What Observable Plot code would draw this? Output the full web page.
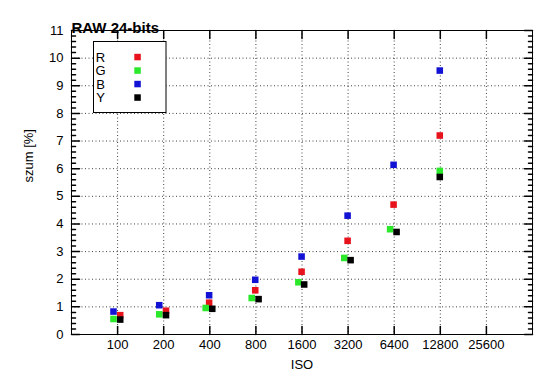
<!DOCTYPE html>
<html><head><meta charset="utf-8">
<script src="https://cdn.jsdelivr.net/npm/d3@7"></script>
<script src="https://cdn.jsdelivr.net/npm/@observablehq/plot@0.6"></script>
<style>body{margin:0;background:#fff;} svg{display:block;}</style>
</head><body><div id="chart"></div>
<script>
const title = "RAW 24-bits";
const xLabel = "ISO";
const yLabel = "szum [%]";
const series = ["R", "G", "B", "Y"];
const colors = ["#e8121c", "#2be82b", "#1212d4", "#000000"];
const isoTicks = [100, 200, 400, 800, 1600, 3200, 6400, 12800, 25600];
const yTicks = [0, 1, 2, 3, 4, 5, 6, 7, 8, 9, 10, 11];

// measured ISO (slightly offset) and noise values per channel
const isoR = [104, 207, 396, 792, 1590, 3176, 6340, 12700];
const valR = [0.70, 0.86, 1.15, 1.60, 2.27, 3.39, 4.70, 7.20];
const isoG = [94, 187, 376, 751, 1515, 3022, 6020, 12700];
const valG = [0.56, 0.73, 0.96, 1.32, 1.89, 2.77, 3.81, 5.92];
const isoB = [94, 187, 396, 792, 1590, 3176, 6340, 12700];
const valB = [0.83, 1.06, 1.42, 1.98, 2.82, 4.30, 6.14, 9.55];
const isoY = [104, 207, 415, 833, 1653, 3322, 6633, 12700];
const valY = [0.54, 0.70, 0.93, 1.28, 1.81, 2.69, 3.71, 5.70];

const isoBySeries = [isoR, isoG, isoB, isoY];
const valBySeries = [valR, valG, valB, valY];
const data = [];
series.forEach((s, k) => {
  isoBySeries[k].forEach((iso, i) => data.push({series: s, iso, value: valBySeries[k][i]}));
});

const minorY = d3.range(0, 55).map(i => i / 5).filter(v => Math.abs(v - Math.round(v)) > 1e-6);
const tickShape = {draw(context, l) { context.moveTo(0, 0); context.lineTo(0, -l); }};
const font = "'Liberation Sans', Arial, Helvetica, sans-serif";
const gridStyle = {stroke: "#000", strokeOpacity: 0.75, strokeDasharray: "1,2.5", strokeWidth: 1};

const chart = Plot.plot({
  width: 550,
  height: 389,
  marginLeft: 71,
  marginRight: 18,
  marginTop: 30,
  marginBottom: 55,
  style: {fontFamily: font, fontSize: "13px", background: "#fff", color: "#000"},
  x: {type: "log", domain: [50, 51200], axis: null},
  y: {domain: [0, 11], axis: null},
  color: {domain: series, range: colors},
  marks: [
    Plot.ruleX(isoTicks, {x: d => d, ...gridStyle}),
    Plot.ruleY(yTicks.filter(v => v > 0 && v < 11), {y: d => d, ...gridStyle}),
    // ticks
    Plot.vector(yTicks, {y: d => d, frameAnchor: "left", length: 8, rotate: 90, anchor: "start", shape: tickShape, stroke: "#000"}),
    Plot.vector(yTicks, {y: d => d, frameAnchor: "right", length: 8, rotate: -90, anchor: "start", shape: tickShape, stroke: "#000"}),
    Plot.vector(minorY, {y: d => d, frameAnchor: "left", length: 4, rotate: 90, anchor: "start", shape: tickShape, stroke: "#000"}),
    Plot.vector(minorY, {y: d => d, frameAnchor: "right", length: 4, rotate: -90, anchor: "start", shape: tickShape, stroke: "#000"}),
    Plot.vector(isoTicks, {x: d => d, frameAnchor: "bottom", length: 8, rotate: 0, anchor: "start", shape: tickShape, stroke: "#000"}),
    Plot.vector(isoTicks, {x: d => d, frameAnchor: "top", length: 8, rotate: 180, anchor: "start", shape: tickShape, stroke: "#000"}),
    Plot.frame({stroke: "#000", strokeWidth: 1}),
    // tick labels
    Plot.text(isoTicks, {x: d => d, frameAnchor: "bottom", dy: 14, text: d => String(d), fontSize: 13}),
    Plot.text(yTicks, {y: d => d, frameAnchor: "left", dx: -8, textAnchor: "end", text: d => String(d), fontSize: 13}),
    // axis labels and title
    Plot.text([xLabel], {frameAnchor: "bottom", dy: 34, text: d => d, fontSize: 13}),
    Plot.text([yLabel], {frameAnchor: "left", dx: -43, rotate: -90, text: d => d, fontSize: 13}),
    Plot.text([title], {frameAnchor: "top-left", dy: -8, textAnchor: "start", text: d => d, fontSize: 15, fontWeight: "bold"}),
    // data
    Plot.dot(data, {x: "iso", y: "value", fill: "series", symbol: "square", r: 3.7})
  ]
});
document.getElementById("chart").appendChild(chart);

// legend box
const svg = d3.select(chart);
const lg = svg.append("g").attr("font-family", font).attr("font-size", 13);
lg.append("rect").attr("x", 93.5).attr("y", 41.5).attr("width", 72.5).attr("height", 71)
  .attr("fill", "#fff").attr("stroke", "#000").attr("stroke-width", 1);
series.forEach((s, i) => {
  const cy = 57 + i * 13.5;
  lg.append("text").attr("x", 100.5).attr("y", cy + 4.7).text(s);
  lg.append("rect").attr("x", 134.3).attr("y", cy - 3.2).attr("width", 6.5).attr("height", 6.5).attr("fill", colors[i]);
});
</script>
</body></html>
